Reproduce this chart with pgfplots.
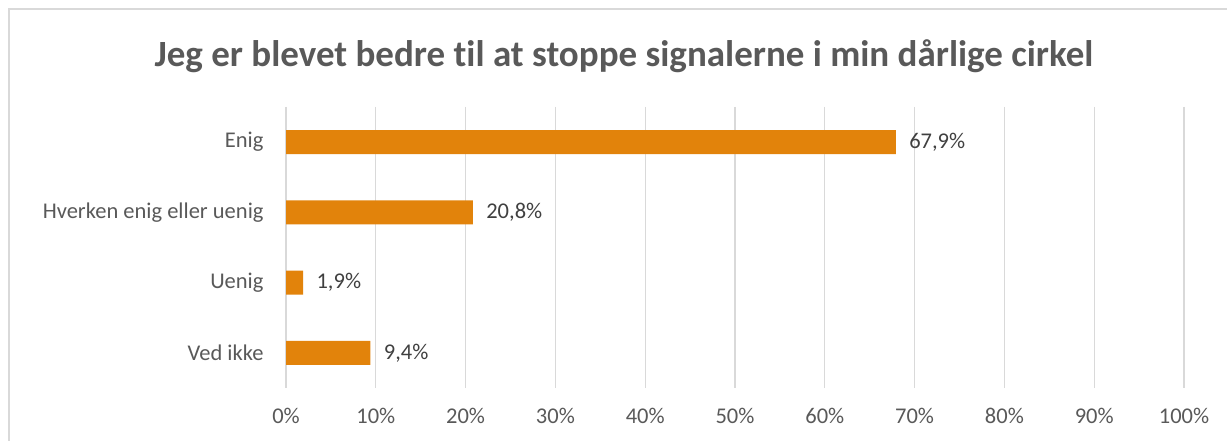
\documentclass[border=0pt]{standalone}
\usepackage{pgfplots}
\pgfplotsset{compat=1.18}
\usepackage{fontspec}
\setmainfont{Carlito}[Ligatures=CommonOff]
\definecolor{barc}{RGB}{226,131,11}
\definecolor{gridc}{RGB}{217,217,217}
\definecolor{txt}{RGB}{89,89,89}
\definecolor{lab}{RGB}{64,64,64}
\begin{document}
\begin{tikzpicture}[x=1bp,y=1bp]
\path[use as bounding box] (0,0) rectangle (1227,441);
\draw[gridc,line width=1.5bp] (9,0) -- (9,432) -- (1227,432);
\node[text=txt,font=\fontsize{37bp}{44bp}\selectfont\bfseries] at (624,385) {Jeg er blevet bedre til at stoppe signalerne i min dårlige cirkel};
\begin{axis}[
  at={(286bp,53bp)}, anchor=south west,
  scale only axis, width=898bp, height=281bp,
  xbar, bar width=24bp,
  xmin=0, xmax=100, ymin=-0.5, ymax=3.5, y dir=reverse,
  axis line style={draw=none},
  xtick={0,10,...,100},
  xticklabel={\pgfmathprintnumber{\tick}\%},
  ytick={0,1,2,3},
  yticklabels={Enig,Hverken enig eller uenig,Uenig,Ved ikke},
  major tick length=0pt,
  xmajorgrids, grid style={gridc,line width=1.2bp},
  ticklabel style={text=txt,font=\fontsize{22.5bp}{27bp}\selectfont},
  /pgf/number format/assume math mode=true,
  xticklabel style={yshift=-17bp},
  yticklabel style={xshift=-19bp},
  nodes near coords={\pgfmathprintnumber[fixed,fixed zerofill,precision=1,use comma]{\pgfplotspointmeta}\%},
  nodes near coords style={text=lab,font=\fontsize{22.5bp}{27bp}\selectfont,xshift=10bp},
  clip=false,
]
\addplot[fill=barc,draw=none] coordinates {(67.9,0) (20.8,1) (1.9,2) (9.4,3)};
\end{axis}
\end{tikzpicture}
\end{document}
